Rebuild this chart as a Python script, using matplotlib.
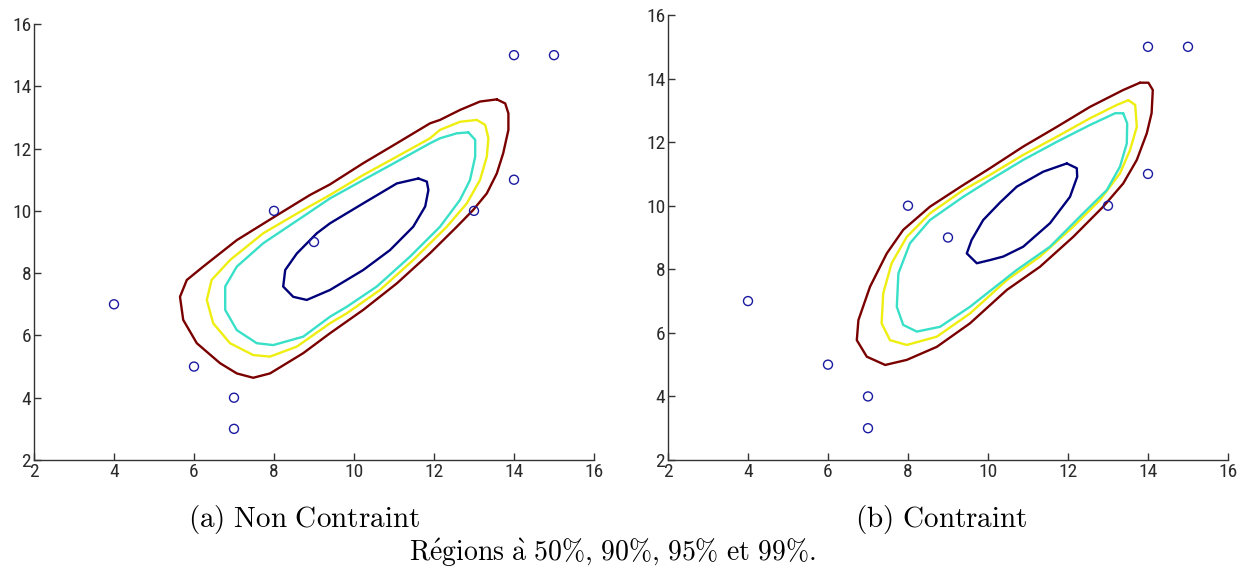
import numpy as np
import matplotlib
matplotlib.use("Agg")
import matplotlib.pyplot as plt
from matplotlib import font_manager

# ---------------- data ----------------
pts_x = [4, 6, 7, 7, 8, 9, 13, 14, 14, 15]
pts_y = [7, 5, 4, 3, 10, 9, 10, 11, 15, 15]

ticks = [2, 4, 6, 8, 10, 12, 14, 16]

# (a) Non Contraint : contour outlines
a99_x = [13.57, 13.78, 13.86, 13.86, 13.73, 13.57, 13.32, 12.98, 12.57, 11.90, 11.07, 10.23, 9.40, 8.73, 7.90, 7.48,
         7.07, 6.65, 6.07, 5.73, 5.65, 5.82, 6.23, 7.07, 8.15, 8.90, 9.40, 10.23, 11.07, 11.90, 12.15, 12.65, 13.15, 13.57]
a99_y = [13.58, 13.45, 13.13, 12.60, 11.85, 11.20, 10.56, 10.03, 9.49, 8.64, 7.67, 6.82, 6.07, 5.43, 4.78, 4.64,
         4.78, 5.11, 5.75, 6.50, 7.24, 7.78, 8.21, 9.06, 9.92, 10.51, 10.85, 11.53, 12.17, 12.81, 12.92, 13.24, 13.51, 13.58]
a95_x = [13.07, 13.28, 13.36, 13.32, 13.15, 12.82, 12.32, 11.48, 10.65, 9.82, 9.40, 8.57, 7.90, 7.48, 6.90, 6.48,
         6.32, 6.44, 6.90, 7.73, 8.73, 9.40, 10.23, 11.07, 11.90, 12.15, 12.65, 13.07]
a95_y = [12.92, 12.76, 12.33, 11.74, 10.99, 10.24, 9.49, 8.42, 7.46, 6.71, 6.39, 5.64, 5.32, 5.37, 5.75, 6.39,
         7.14, 7.78, 8.42, 9.28, 10.03, 10.51, 11.15, 11.74, 12.33, 12.60, 12.86, 12.92]
a90_x = [12.86, 13.03, 13.03, 12.90, 12.65, 12.15, 11.40, 10.57, 9.82, 9.40, 8.73, 7.98, 7.57, 7.07, 6.78, 6.78,
         7.07, 7.73, 8.73, 9.40, 10.23, 11.07, 11.90, 12.15, 12.57, 12.86]
a90_y = [12.52, 12.28, 11.74, 10.99, 10.35, 9.49, 8.53, 7.57, 6.92, 6.60, 5.96, 5.69, 5.75, 6.17, 6.82, 7.57,
         8.21, 8.96, 9.82, 10.40, 10.99, 11.58, 12.17, 12.33, 12.49, 12.52]
a50_x = [11.61, 11.82, 11.86, 11.78, 11.48, 10.90, 10.23, 9.40, 8.82, 8.48, 8.23, 8.28, 8.57, 9.07, 9.40, 10.23, 11.07, 11.61]
a50_y = [11.04, 10.94, 10.67, 10.14, 9.49, 8.74, 8.10, 7.46, 7.14, 7.24, 7.57, 8.10, 8.63, 9.28, 9.60, 10.24, 10.88, 11.04]

# (b) Contraint
b99_x = [13.80, 14.01, 14.12, 14.09, 13.97, 13.72, 13.38, 12.88, 12.13, 11.30, 10.47, 9.55, 8.72, 7.97, 7.43, 6.97,
         6.72, 6.76, 7.05, 7.47, 7.88, 8.55, 9.38, 10.05, 10.88, 11.72, 12.55, 13.38, 13.80]
b99_y = [13.87, 13.87, 13.64, 12.91, 12.28, 11.44, 10.70, 9.97, 9.02, 8.08, 7.35, 6.30, 5.56, 5.15, 4.99, 5.25,
         5.77, 6.40, 7.45, 8.50, 9.24, 9.97, 10.65, 11.18, 11.86, 12.48, 13.11, 13.64, 13.87]
b95_x = [13.51, 13.68, 13.72, 13.55, 13.30, 12.80, 12.13, 11.30, 10.47, 9.55, 8.72, 7.97, 7.55, 7.34, 7.38, 7.59,
         7.97, 8.55, 9.38, 10.05, 10.88, 11.72, 12.55, 13.22, 13.51]
b95_y = [13.32, 13.17, 12.48, 11.75, 11.02, 10.18, 9.34, 8.40, 7.66, 6.61, 5.88, 5.62, 5.77, 6.30, 7.24, 8.19,
         9.02, 9.76, 10.49, 10.97, 11.60, 12.17, 12.75, 13.17, 13.32]
b90_x = [13.38, 13.48, 13.47, 13.30, 12.97, 12.38, 11.55, 10.72, 9.55, 8.80, 8.22, 7.88, 7.72, 7.76, 8.05, 8.55,
         9.38, 10.05, 10.88, 11.72, 12.55, 13.18, 13.38]
b90_y = [12.91, 12.59, 11.96, 11.23, 10.49, 9.76, 8.71, 7.98, 6.82, 6.19, 6.04, 6.25, 6.82, 7.87, 8.82, 9.55,
         10.28, 10.81, 11.44, 12.01, 12.54, 12.91, 12.91]
b50_x = [11.97, 12.22, 12.23, 12.05, 11.55, 10.88, 10.38, 10.05, 9.72, 9.47, 9.59, 9.88, 10.30, 10.72, 11.38, 11.97]
b50_y = [11.33, 11.18, 10.91, 10.28, 9.45, 8.71, 8.40, 8.29, 8.19, 8.50, 8.92, 9.55, 10.10, 10.60, 11.07, 11.33]

caption_a = r"$\mathrm{(a)\ Non\ Contraint}$"
caption_b = r"$\mathrm{(b)\ Contraint}$"
main_caption = r"$\mathrm{R\acute{e}gions\ \grave{a}\ 50\%{,}\ 90\%{,}\ 95\%\ et\ 99\%.}$"

col99, col95, col90, col50 = "#7a0000", "#eeee10", "#38e0c8", "#00007a"
point_col = "#1a1aa0"

# ---------------- figure ----------------
plt.rcParams["mathtext.fontset"] = "cm"
avail = {f.name for f in font_manager.fontManager.ttflist}
tick_font = "DejaVu Sans"
tick_stretch = "condensed"
for cand in ["Liberation Sans Narrow", "Roboto Condensed", "DejaVu Sans Condensed", "Open Sans Condensed"]:
    if cand in avail:
        tick_font = cand
        break

fig = plt.figure(figsize=(12.58, 5.71), dpi=100)
axA = fig.add_axes([34/1258, 1-460/571, 560/1258, 436/571])
axB = fig.add_axes([668/1258, 1-460/571, 560/1258, 445/571])

panels = [
    (axA, [(a99_x, a99_y, col99), (a95_x, a95_y, col95), (a90_x, a90_y, col90), (a50_x, a50_y, col50)]),
    (axB, [(b99_x, b99_y, col99), (b95_x, b95_y, col95), (b90_x, b90_y, col90), (b50_x, b50_y, col50)]),
]

for ax, curves in panels:
    for cx, cy, c in curves:
        ax.plot(cx, cy, color=c, lw=1.7, solid_joinstyle="round", solid_capstyle="round")
    ax.scatter(pts_x, pts_y, s=42, facecolors="none", edgecolors=point_col, linewidths=1.0, zorder=5)
    ax.set_xlim(2, 16)
    ax.set_ylim(2, 16)
    ax.set_xticks(ticks)
    ax.set_yticks(ticks)
    ax.spines["top"].set_visible(False)
    ax.spines["right"].set_visible(False)
    for s in ("left", "bottom"):
        ax.spines[s].set_color("#333333")
        ax.spines[s].set_linewidth(1.0)
    ax.tick_params(direction="in", length=5, width=1.0, colors="#333333", labelsize=14, pad=2)
    for lab in ax.get_xticklabels() + ax.get_yticklabels():
        lab.set_fontfamily(tick_font)
        lab.set_fontstretch(tick_stretch)
        lab.set_color("#2a2a2a")

fig.text(304/1258, 1-520/571, caption_a, ha="center", va="center", fontsize=21)
fig.text(941/1258, 1-520/571, caption_b, ha="center", va="center", fontsize=21)
fig.text(612/1258, 1-553/571, main_caption, ha="center", va="center", fontsize=20)

fig.savefig("out.png", dpi=100)
